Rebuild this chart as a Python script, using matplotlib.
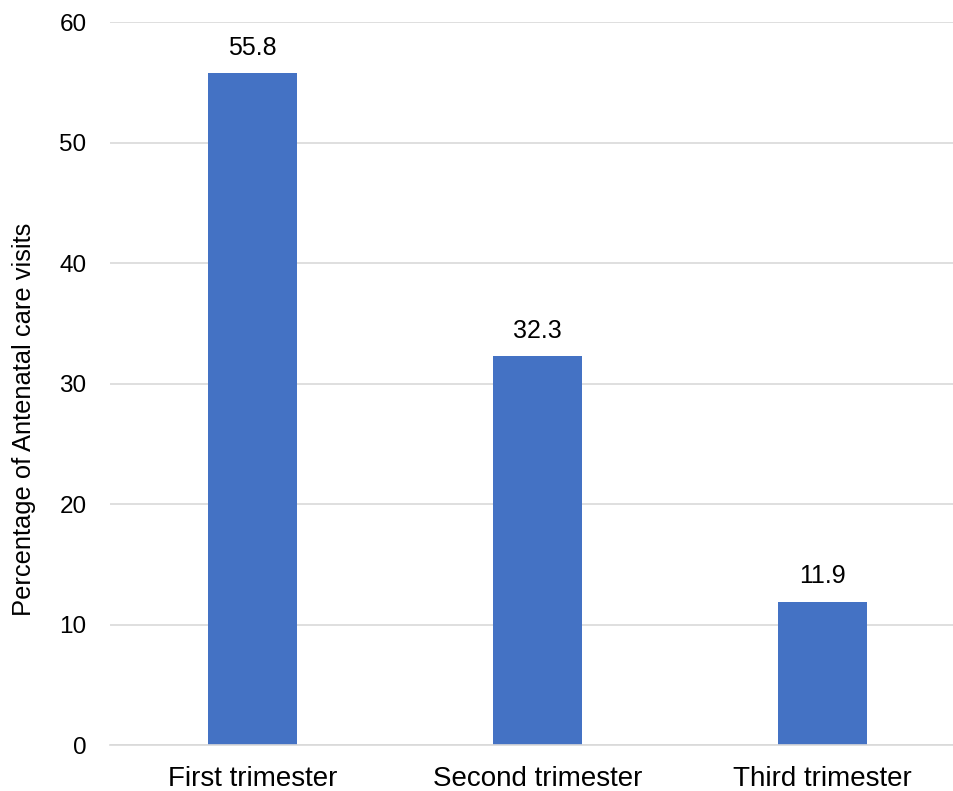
import matplotlib.pyplot as plt

categories = ["First trimester", "Second trimester", "Third trimester"]
values = [55.8, 32.3, 11.9]
y_ticks = [0, 10, 20, 30, 40, 50, 60]

plt.rcParams['font.family'] = ['Liberation Sans', 'DejaVu Sans']

fig = plt.figure(figsize=(9.54, 7.91), dpi=100)
ax = fig.add_axes([0.1153, 0.058, 0.896, 0.914])

x = range(len(categories))
bars = ax.bar(x, values, width=0.312, color="#4472C4", zorder=3)

for b, v in zip(bars, values):
    ax.text(b.get_x() + b.get_width() / 2, v + 1.1, f"{v:.1f}",
            ha="center", va="bottom", fontsize=18)

ax.set_xlim(-0.5, 2.5)
ax.set_ylim(0, 60)
ax.set_yticks(y_ticks)
ax.set_xticks(list(x))
ax.set_xticklabels(categories, fontsize=20)
ax.tick_params(axis="y", labelsize=17.5, length=0, pad=17)
ax.tick_params(axis="x", length=0, pad=15)
ax.grid(axis="y", color="#D9D9D9", linewidth=1.2, zorder=0)
for s in ["top", "right", "left"]:
    ax.spines[s].set_visible(False)
ax.spines["bottom"].set_color("#D9D9D9")
ax.spines["bottom"].set_linewidth(1.2)
ax.spines["bottom"].set_zorder(4)
ax.set_ylabel("Percentage of Antenatal care visits", fontsize=18.4)
ax.yaxis.set_label_coords(-0.086, 0.45)

fig.savefig("out.png", dpi=100)
